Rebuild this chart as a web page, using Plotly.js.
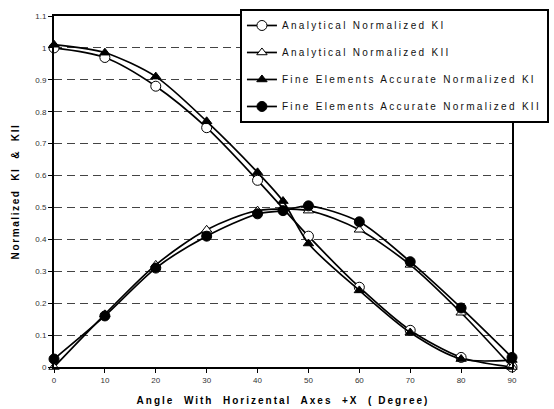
<!DOCTYPE html>
<html>
<head>
<meta charset="utf-8">
<script src="https://cdn.plot.ly/plotly-3.0.1.min.js"></script>
<style>
html,body{margin:0;padding:0;background:#fff;}
#chart{width:554px;height:409px;}
.legendtext{letter-spacing:2.3px;}
.xtitle{letter-spacing:2px;}
.ytitle{letter-spacing:1.6px;}
</style>
</head>
<body>
<div id="chart"></div>
<script>
const anglesA = [0, 10, 20, 30, 40, 50, 60, 70, 80, 90];
const analyticalKI = [1.0, 0.97, 0.88, 0.75, 0.585, 0.41, 0.25, 0.115, 0.03, 0.0];
const analyticalKII = [0.0, 0.165, 0.32, 0.43, 0.49, 0.49, 0.43, 0.32, 0.17, 0.0];
const anglesFE = [0, 10, 20, 30, 40, 45, 50, 60, 70, 80, 90];
const feKI = [1.01, 0.985, 0.91, 0.77, 0.61, 0.52, 0.387, 0.24, 0.108, 0.025, 0.022];
const feKII = [0.025, 0.16, 0.31, 0.41, 0.48, 0.49, 0.505, 0.455, 0.33, 0.185, 0.03];
const seriesNames = ["Analytical Normalized KI", "Analytical Normalized KII",
  "Fine Elements Accurate Normalized KI", "Fine Elements Accurate Normalized KII"];

function tr(x, y, name, symbol, fill, group) {
  return {
    x: x, y: y, name: name, type: 'scatter', mode: 'lines+markers',
    legendgroup: group, cliponaxis: false,
    line: {color: '#000', width: 1.7, shape: 'spline', smoothing: 0.8},
    marker: {symbol: symbol, size: symbol.indexOf('triangle') === 0 ? 9 : 10, color: fill,
             line: {color: '#000', width: 1}}
  };
}
const data = [
  tr(anglesA, analyticalKI, seriesNames[0], 'circle', '#fff', 'a'),
  tr(anglesA, analyticalKII, seriesNames[1], 'triangle-up', '#fff', 'b'),
  tr(anglesFE, feKI, seriesNames[2], 'triangle-up', '#000', 'c'),
  tr(anglesFE, feKII, seriesNames[3], 'circle', '#000', 'd')
];
const font = "Liberation Sans, Arial, sans-serif";
const layout = {
  width: 554, height: 409,
  margin: {l: 54, r: 42, t: 16, b: 42, autoexpand: false},
  paper_bgcolor: '#fff', plot_bgcolor: '#fff',
  showlegend: true,
  font: {family: font, color: '#000'},
  xaxis: {
    range: [0, 90], dtick: 10, tick0: 0, showgrid: false, zeroline: false,
    showline: true, linecolor: '#000', linewidth: 2, mirror: true,
    ticks: 'outside', ticklen: 4, tickcolor: '#000', tickwidth: 1,
    tickfont: {size: 8, color: '#333', family: font},
    title: {text: "Angle  With  Horizental  Axes  +X  ( Degree)", font: {size: 10, family: font, weight: 'bold'}, standoff: 13}
  },
  yaxis: {
    range: [0, 1.1], dtick: 0.1, tick0: 0, zeroline: false,
    showgrid: true, gridcolor: '#444', gridwidth: 1, griddash: '8px,5px',
    showline: true, linecolor: '#000', linewidth: 2, mirror: true,
    ticks: 'outside', ticklen: 4, tickcolor: '#000', tickwidth: 1,
    tickfont: {size: 8, color: '#333', family: font},
    title: {text: "Normalized  KI  &  KII", font: {size: 10, family: font, weight: 'bold'}, standoff: 14}
  },
  legend: {
    x: 0.406, y: 1.02, xanchor: 'left', yanchor: 'top',
    bgcolor: '#fff', bordercolor: '#000', borderwidth: 2,
    font: {size: 10, family: font, color: '#111'},
    traceorder: 'grouped', tracegroupgap: 8, itemwidth: 30
  }
};
Plotly.newPlot('chart', data, layout, {displayModeBar: false, staticPlot: true});
</script>
</body>
</html>
